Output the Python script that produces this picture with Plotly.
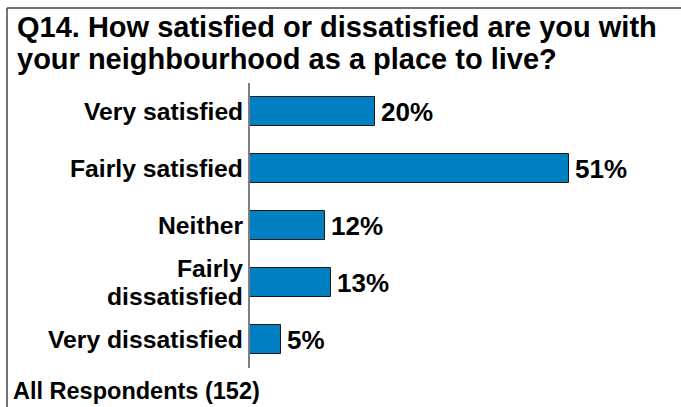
import plotly.graph_objects as go

# Survey results: satisfaction with the neighbourhood
categories = ["Very satisfied", "Fairly satisfied", "Neither",
              "Fairly<br>dissatisfied", "Very dissatisfied"]
percentages = [20, 51, 12, 13, 5]
title_lines = ["Q14. How satisfied or dissatisfied are you with",
               "your neighbourhood as a place to live?"]
base_note = "All Respondents (152)"

W, H = 681, 407
L, R, T, B = 250, 656, 83, 368          # plot area in pixels
FONT = "Liberation Sans, Arial, sans-serif"
BAR_BLUE = "#0080C3"
LABEL_SIZE = 24.7
LINE_STEP = 27.5                         # spacing of wrapped category lines


def px_x(x):
    return (x - L) / (R - L)


def px_y(y):
    return (B - y) / (B - T)


fig = go.Figure(
    go.Bar(
        x=percentages,
        y=categories,
        orientation="h",
        width=0.51,
        marker=dict(color=BAR_BLUE, line=dict(color="#1a1a1a", width=1)),
        hoverinfo="skip",
    )
)

annotations = []
title_centres = [27, 59]
for line, yc in zip(title_lines, title_centres):
    annotations.append(dict(
        text=line, xref="paper", yref="paper",
        x=px_x(15), y=px_y(yc), xanchor="left", yanchor="middle",
        showarrow=False,
        font=dict(family=FONT, size=29, color="black", weight="bold"),
    ))

# category names, right-aligned against the axis
for cat in categories:
    parts = cat.split("<br>")
    n = len(parts)
    for i, part in enumerate(parts):
        annotations.append(dict(
            text=part, xref="paper", yref="y",
            x=0, y=cat, xanchor="right", yanchor="middle",
            xshift=-5, yshift=((n - 1) / 2 - i) * LINE_STEP,
            showarrow=False,
            font=dict(family=FONT, size=LABEL_SIZE, color="black", weight="bold"),
        ))

# value labels just past the end of each bar
for cat, v in zip(categories, percentages):
    annotations.append(dict(
        text=f"{v}%", xref="x", yref="y",
        x=v, y=cat, xanchor="left", yanchor="middle",
        xshift=4, showarrow=False,
        font=dict(family=FONT, size=26, color="black", weight="bold"),
    ))

annotations.append(dict(
    text=base_note, xref="paper", yref="paper",
    x=px_x(11), y=px_y(391), xanchor="left", yanchor="middle",
    showarrow=False,
    font=dict(family=FONT, size=23.5, color="black", weight="bold"),
))

# frame along the top and left edges
shapes = [
    dict(type="line", xref="paper", yref="paper",
         x0=px_x(7), x1=px_x(W + 10), y0=px_y(8), y1=px_y(8),
         line=dict(color="#444444", width=1.5)),
    dict(type="line", xref="paper", yref="paper",
         x0=px_x(7), x1=px_x(7), y0=px_y(8), y1=px_y(H + 10),
         line=dict(color="#444444", width=1.5)),
]

fig.update_layout(
    width=W, height=H,
    margin=dict(l=L, r=W - R, t=T, b=H - B, pad=0),
    paper_bgcolor="white", plot_bgcolor="white",
    showlegend=False,
    bargap=0,
    annotations=annotations,
    shapes=shapes,
    xaxis=dict(range=[0, 65], visible=False, fixedrange=True),
    yaxis=dict(
        autorange="reversed",
        showline=True, linecolor="#7f7f7f", linewidth=2,
        showgrid=False, zeroline=False,
        ticks="", showticklabels=False,
        fixedrange=True,
    ),
)

fig.write_html("out.html")
